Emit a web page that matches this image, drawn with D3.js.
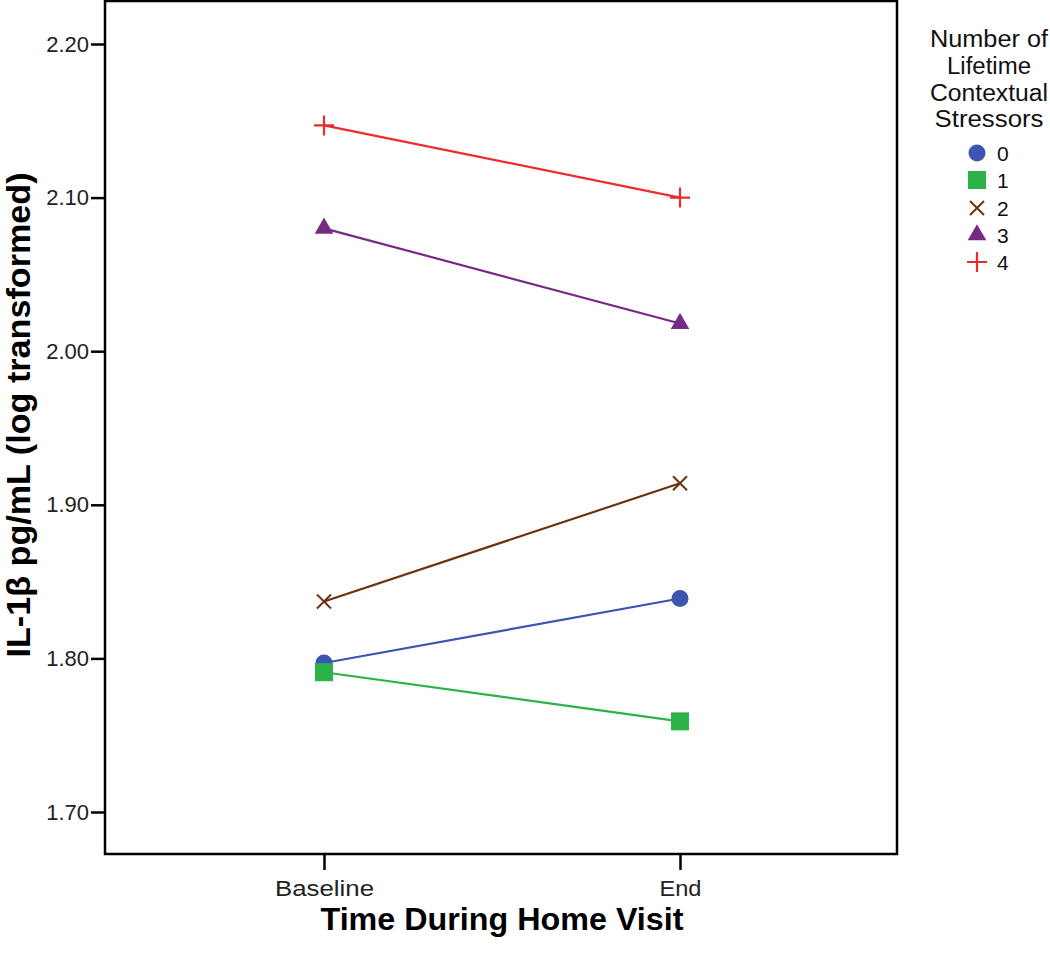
<!DOCTYPE html>
<html>
<head>
<meta charset="utf-8">
<script src="https://cdn.jsdelivr.net/npm/d3@7"></script>
<style>
  body { margin: 0; background: #fff; }
  text { font-family: "Liberation Sans", Arial, sans-serif; }
</style>
</head>
<body>
<svg id="chart" width="1050" height="960"></svg>
<script>
// Data
var times = ["Baseline", "End"];
var groups = ["0", "1", "2", "3", "4"];
var colors = ["#3b55b0", "#2bb34a", "#6b3312", "#772a84", "#ee2b2b"];
var shapes = ["circle", "square", "cross", "triangle", "plus"];
var baseline = [1.797, 1.791, 1.837, 2.080, 2.147];
var end = [1.839, 1.759, 1.914, 2.018, 2.100];
var yTicks = [1.70, 1.80, 1.90, 2.00, 2.10, 2.20];

var svg = d3.select("#chart");
var plotL = 105, plotR = 897, plotT = 1, plotB = 854;

var x = d3.scalePoint().domain(times).range([324, 680]);
var y = d3.scaleLinear().domain([1.70, 2.20]).range([812, 44]);

// Plot frame
svg.append("rect")
  .attr("x", plotL).attr("y", plotT)
  .attr("width", plotR - plotL).attr("height", plotB - plotT)
  .attr("fill", "none").attr("stroke", "#000").attr("stroke-width", 2.5);

// Axes
var yAxis = svg.append("g")
  .attr("transform", "translate(" + plotL + ",0)")
  .call(d3.axisLeft(y).tickValues(yTicks).tickFormat(d3.format(".2f")).tickSize(14).tickPadding(2));
var xAxis = svg.append("g")
  .attr("transform", "translate(0," + plotB + ")")
  .call(d3.axisBottom(x).tickSize(16).tickPadding(10));
[yAxis, xAxis].forEach(function (g) {
  g.select(".domain").remove();
  g.selectAll(".tick line").attr("stroke", "#000").attr("stroke-width", 2.5);
  g.selectAll(".tick text").attr("fill", "#222").style("font-size", "22px")
    .style("font-family", "'Liberation Sans', Arial, sans-serif");
});
xAxis.selectAll(".tick text").attr("textLength", function (d) { return d === "Baseline" ? 99 : 42; })
  .attr("lengthAdjust", "spacingAndGlyphs");

// Axis titles
svg.append("text")
  .attr("transform", "translate(30,415) rotate(-90)")
  .attr("text-anchor", "middle")
  .attr("textLength", 485).attr("lengthAdjust", "spacingAndGlyphs")
  .style("font-size", "33px").style("font-weight", "bold")
  .text("IL-1β pg/mL (log transformed)");
svg.append("text")
  .attr("x", 502).attr("y", 930)
  .attr("text-anchor", "middle")
  .attr("textLength", 363).attr("lengthAdjust", "spacingAndGlyphs")
  .style("font-size", "31px").style("font-weight", "bold")
  .text("Time During Home Visit");

// Marker drawing
function marker(g, shape, color, size) {
  var s = size || 1;
  if (shape === "circle") {
    g.append("circle").attr("r", 8.5 * s).attr("fill", color);
  } else if (shape === "square") {
    g.append("rect").attr("x", -9 * s).attr("y", -9 * s).attr("width", 18 * s).attr("height", 18 * s).attr("fill", color);
  } else if (shape === "triangle") {
    g.append("path").attr("d", d3.symbol().type(d3.symbolTriangle).size(150 * s * s)).attr("fill", color);
  } else if (shape === "cross") {
    g.append("path").attr("d", "M-7,-7L7,7M-7,7L7,-7").attr("stroke", color).attr("stroke-width", 2).attr("fill", "none");
  } else if (shape === "plus") {
    g.append("path").attr("d", "M-10,0L10,0M0,-10L0,10").attr("stroke", color).attr("stroke-width", 2.2).attr("fill", "none");
  }
}

// Lines and markers
var series = groups.map(function (gname, i) {
  return { name: gname, color: colors[i], shape: shapes[i], values: [baseline[i], end[i]] };
});

var line = d3.line()
  .x(function (d, i) { return x(times[i]); })
  .y(function (d) { return y(d); });

series.forEach(function (s) {
  svg.append("path")
    .datum(s.values)
    .attr("d", line)
    .attr("fill", "none")
    .attr("stroke", s.color)
    .attr("stroke-width", 2.2);
});
// draw order so green square sits over blue circle at baseline
[0, 2, 3, 4, 1].forEach(function (i) {
  var s = series[i];
  s.values.forEach(function (v, j) {
    var g = svg.append("g").attr("transform", "translate(" + x(times[j]) + "," + y(v) + ")");
    marker(g, s.shape, s.color);
  });
});

// Legend
var legendTitle = ["Number of", "Lifetime", "Contextual", "Stressors"];
var titleWidths = [118, 84, 118, 109];
svg.append("g").selectAll("text")
  .data(legendTitle)
  .enter().append("text")
  .attr("x", 989)
  .attr("y", function (d, i) { return 47 + i * 26.8; })
  .attr("text-anchor", "middle")
  .attr("fill", "#111")
  .attr("textLength", function (d, i) { return titleWidths[i]; })
  .attr("lengthAdjust", "spacingAndGlyphs")
  .style("font-size", "23px")
  .text(function (d) { return d; });

var legendRows = [153, 180, 208, 235, 262];
series.forEach(function (s, i) {
  var g = svg.append("g").attr("transform", "translate(977," + legendRows[i] + ")");
  marker(g, s.shape, s.color, 1);
  g.append("text").attr("x", 20).attr("y", 7.5)
    .attr("fill", "#111").style("font-size", "21px").text(s.name);
});
</script>
</body>
</html>
